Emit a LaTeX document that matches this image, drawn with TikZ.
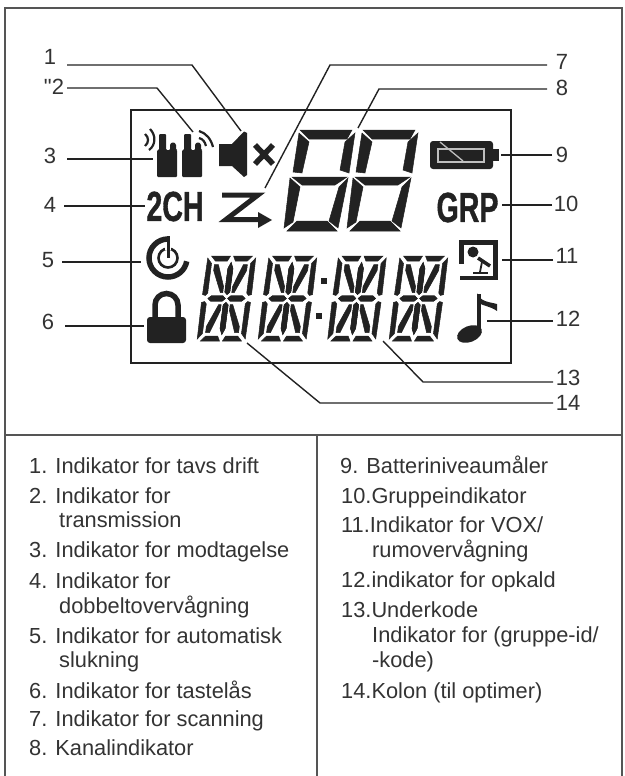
\documentclass[tikz,border=0pt]{standalone}
\usepackage{fontspec}
\setmainfont{Liberation Sans}
\newfontfamily\plainnum{Liberation Sans}
\newfontfamily\lcdfont{Liberation Sans Bold}[FakeBold=1.2]
\definecolor{ink}{HTML}{222222}
\definecolor{txt}{HTML}{333333}
\definecolor{frame}{HTML}{555555}
\tikzset{
  leader/.style={draw=ink,line width=1.4pt,line join=miter},
  framel/.style={draw=frame,line width=1.8pt},
  lcdbox/.style={draw=ink,line width=1.5pt},
  seg/.style={fill=ink,draw=ink,line width=.5pt,line join=miter},
  glyph/.style={fill=ink,draw=none},
  num/.style={inner sep=0pt,text=txt,font=\plainnum\fontsize{22}{22}\selectfont,anchor=center},
  item/.style={inner sep=0pt,text=txt,font=\fontsize{21.8}{22}\selectfont,anchor=base west},
  lcdtext/.style={inner sep=0pt,text=ink,font=\lcdfont\fontsize{42}{42}\selectfont,xscale=.68,anchor=center}
}
% 14-segment digit about its centre
\newcommand{\alnum}[1]{%
  \begin{scope}[shift={(#1,298.5)},xslant=.13]
    \foreach \sx/\sy in {1/1,-1/1,1/-1,-1/-1}{
      \begin{scope}[xscale=\sx,yscale=\sy]
        \fill[seg] (-1.5,-42.5) -- (-20.5,-42.5) -- (-16,-37.5) -- (-4,-37.5) -- cycle;
        \fill[seg] (-24,-40.5) -- (-19.5,-35) -- (-19.5,-5.5) -- (-21.5,-3) -- (-24.5,-4) -- cycle;
        \fill[seg] (-18.5,0) -- (-15.5,-2.6) -- (-4,-2.6) -- (-1.2,0) -- (-4,2.6) -- (-15.5,2.6) -- cycle;
        \fill[seg] (0,-4) -- (-2.5,-6.5) -- (-2.5,-30) -- (0,-36) -- (2.5,-30) -- (2.5,-6.5) -- cycle;
        \fill[seg] (-16.5,-34) -- (-12.5,-34) -- (-4.5,-12) -- (-4.5,-6) -- (-7,-6) -- (-16.5,-28) -- cycle;
      \end{scope}
    }
  \end{scope}}
% 7-segment digit, shifted from the right digit
\newcommand{\sevenseg}[1]{%
  \begin{scope}[shift={(#1,0)}]
    \fill[seg] (363,130) -- (415,130) -- (410,139) -- (372,139) -- cycle;
    \fill[seg] (362,133) -- (372,142) -- (365,173) -- (356,172) -- cycle;
    \fill[seg] (418,133) -- (412,173) -- (403,170) -- (408,142) -- cycle;
    \fill[seg] (355,177) -- (410,177) -- (398,185) -- (365,185) -- cycle;
    \fill[seg] (353,178) -- (363,187) -- (356,222) -- (347,228) -- cycle;
    \fill[seg] (411,178) -- (402,187) -- (392,221) -- (401,228) -- cycle;
    \fill[seg] (360,221) -- (390,221) -- (400,231) -- (350,231) -- cycle;
  \end{scope}}
\begin{document}
\begin{tikzpicture}[x=1pt,y=-1pt]
\useasboundingbox (0,0) rectangle (624,776);
% outer frame
\draw[framel] (5,776) -- (5,8) -- (622,8) -- (622,776);
\draw[framel] (5,435) -- (622,435);
\draw[framel] (317,435) -- (317,776);
% LCD box
\draw[lcdbox] (131,110) rectangle (511,363);

% seven segment digits
\sevenseg{-63}
\sevenseg{0}
% alphanumeric digits
\alnum{226.5}
\alnum{287.5}
\alnum{357}
\alnum{418.5}
\fill[glyph] (321,278) rectangle (327,284);
\fill[glyph] (316,313) rectangle (322,319);

% speaker
\fill[glyph] (219,144) -- (232,144) -- (244,131.5) -- (247,133) -- (247,175) -- (244,177) -- (232,166) -- (219,166) -- cycle;
\draw[ink,line width=5.5pt] (255,145) -- (273,164) (273,145) -- (255,164);
% radios
\fill[glyph,rounded corners=1pt] (157,177) -- (157,150) -- (159,150) -- (159,134) -- (166,134) -- (166,150) -- (170,150) -- (170,144) -- (173,142) -- (176,144) -- (176,150) -- (177,150) -- (177,177) -- cycle;
\fill[glyph,rounded corners=1pt] (182,177) -- (182,150) -- (184,150) -- (184,134) -- (191,134) -- (191,150) -- (195,150) -- (195,144) -- (198,142) -- (201,144) -- (201,150) -- (202,150) -- (202,177) -- cycle;
\draw[ink,line width=2.2pt] (145,134) .. controls (149,137) and (149,143) .. (145,146);
\draw[ink,line width=2.2pt] (150,129) .. controls (156,135) and (156,145) .. (149,150);
\draw[ink,line width=2.2pt] (199,138) .. controls (203,139) and (205,142) .. (206,146);
\draw[ink,line width=2.2pt] (199,131) .. controls (206,133) and (211,139) .. (213,147);
% 2CH and GRP
\node[lcdtext] (chtext) at (175,206.5) {2CH};
\node[lcdtext] (grptext) at (467.5,207.5) {GRP};
% scan icon
\draw[ink,line width=5pt,line join=miter] (222,195) -- (258,195) -- (226,219.5) -- (262,219.5);
\fill[glyph] (258,212) -- (272,220) -- (258,228) -- cycle;
% battery
\fill[glyph,rounded corners=3pt] (430,141) rectangle (493,169);
\fill[glyph] (492,149) rectangle (499,161);
\draw[white!75!black,line width=1.3pt] (438,149) rectangle (484,162);
\draw[white!75!black,line width=1.3pt] (440,142) -- (463,161);
% power icon
\draw[ink,line width=5.5pt] (168,239) arc[start angle=-90,end angle=-350,radius=19];
\draw[ink,line width=2.6pt] (168,258) circle[radius=9.5];
\draw[white,line width=6pt] (168,243) -- (168,250);
\draw[ink,line width=3pt] (168,236) -- (168,258);
% lock
\fill[glyph,rounded corners=3pt] (147,317) rectangle (186,343);
\draw[ink,line width=5.5pt] (155,318) -- (155,305) arc[start angle=180,end angle=360,radius=11.5] -- (178,318);
% microphone icon
\fill[glyph] (459,240) rectangle (498,245);
\fill[glyph] (459,240) rectangle (464,264);
\fill[glyph] (493,240) rectangle (498,280);
\fill[glyph] (460,276) rectangle (498,280);
\fill[glyph] (473,252) circle[radius=5.5];
\draw[ink,line width=3.6pt] (478,258) -- (490,266);
\draw[ink,line width=1.8pt] (482,262) -- (480,272);
\draw[ink,line width=2pt] (473,272.5) -- (488,272.5);
% note
\fill[glyph,rotate around={22:(469.5,334)}] (469.5,334) ellipse[x radius=13,y radius=8];
\fill[glyph] (477,294) rectangle (481,332);
\fill[glyph] (477,293) .. controls (480,302) and (490,302) .. (497,304) -- (497,311) .. controls (490,306) and (483,306) .. (479,303) -- cycle;

% labels
\node[num] (l1) at (50,57) {1};
\node[num] (l2) at (54,87) {"2};
\node[num] (l3) at (50,156) {3};
\node[num] (l4) at (50,205) {4};
\node[num] (l5) at (48,260) {5};
\node[num] (l6) at (48,322) {6};
\node[num] (l7) at (562,62) {7};
\node[num] (l8) at (562,88) {8};
\node[num] (l9) at (562,155) {9};
\node[num] (l10) at (566,204) {10};
\node[num] (l11) at (567,256) {11};
\node[num] (l12) at (568,319) {12};
\node[num] (l13) at (568,378) {13};
\node[num] (l14) at (568,403) {14};

% connector ends
\coordinate (a1) at (67,65); \coordinate (e1) at (241,131);
\coordinate (a2) at (67,88); \coordinate (e2) at (193,132);
\coordinate (a3) at (67,159); \coordinate (e3) at (153,159);
\coordinate (a4) at (64,206); \coordinate (e4) at (145,206);
\coordinate (a5) at (62,262); \coordinate (e5) at (141,262);
\coordinate (a6) at (65,326); \coordinate (e6) at (144,326);
\coordinate (a7) at (547,65); \coordinate (e7) at (265,188);
\coordinate (a8) at (547,89); \coordinate (e8) at (358,128);
\coordinate (a9) at (552,155); \coordinate (e9) at (501,155);
\coordinate (a10) at (552,205); \coordinate (e10) at (502,205);
\coordinate (a11) at (553,260); \coordinate (e11) at (502,260);
\coordinate (a12) at (553,321); \coordinate (e12) at (487,321);
\coordinate (a13) at (553,382); \coordinate (e13) at (383,341);
\coordinate (a14) at (553,403); \coordinate (e14) at (247,343);
\path[leader] (a1) -- (192,65) -- (e1);
\path[leader] (a2) -- (157,88) -- (e2);
\path[leader] (a3) -- (e3);
\path[leader] (a4) -- (e4);
\path[leader] (a5) -- (e5);
\path[leader] (a6) -- (e6);
\path[leader] (a7) -- (330,65) -- (e7);
\path[leader] (a8) -- (379,89) -- (e8);
\path[leader] (a9) -- (e9);
\path[leader] (a10) -- (e10);
\path[leader] (a11) -- (e11);
\path[leader] (a12) -- (e12);
\path[leader] (a13) -- (423,382) -- (e13);
\path[leader] (a14) -- (320,403) -- (e14);

% legend left
\node[item] (t1) at (29,473) {1. Indikator for tavs drift};
\node[item] (t2) at (29,503) {2. Indikator for};
\node[item] (t2b) at (59,527) {transmission};
\node[item] (t3) at (29,557) {3. Indikator for modtagelse};
\node[item] (t4) at (29,588) {4. Indikator for};
\node[item] (t4b) at (59,613) {dobbeltovervågning};
\node[item] (t5) at (29,643) {5. Indikator for automatisk};
\node[item] (t5b) at (59,667) {slukning};
\node[item] (t6) at (29,698) {6. Indikator for tastelås};
\node[item] (t7) at (29,726) {7. Indikator for scanning};
\node[item] (t8) at (29,755) {8. Kanalindikator};
% legend right
\node[item] (t9) at (340,473) {9. Batteriniveaumåler};
\node[item] (t10) at (341,503) {10.Gruppeindikator};
\node[item] (t11) at (341,532) {11.Indikator for VOX/};
\node[item] (t11b) at (372,557) {rumovervågning};
\node[item] (t12) at (341,587) {12.indikator for opkald};
\node[item] (t13) at (341,617) {13.Underkode};
\node[item] (t13b) at (372,642) {Indikator for (gruppe-id/};
\node[item] (t13c) at (372,667) {-kode)};
\node[item] (t14) at (341,698) {14.Kolon (til optimer)};
\end{tikzpicture}
\end{document}
